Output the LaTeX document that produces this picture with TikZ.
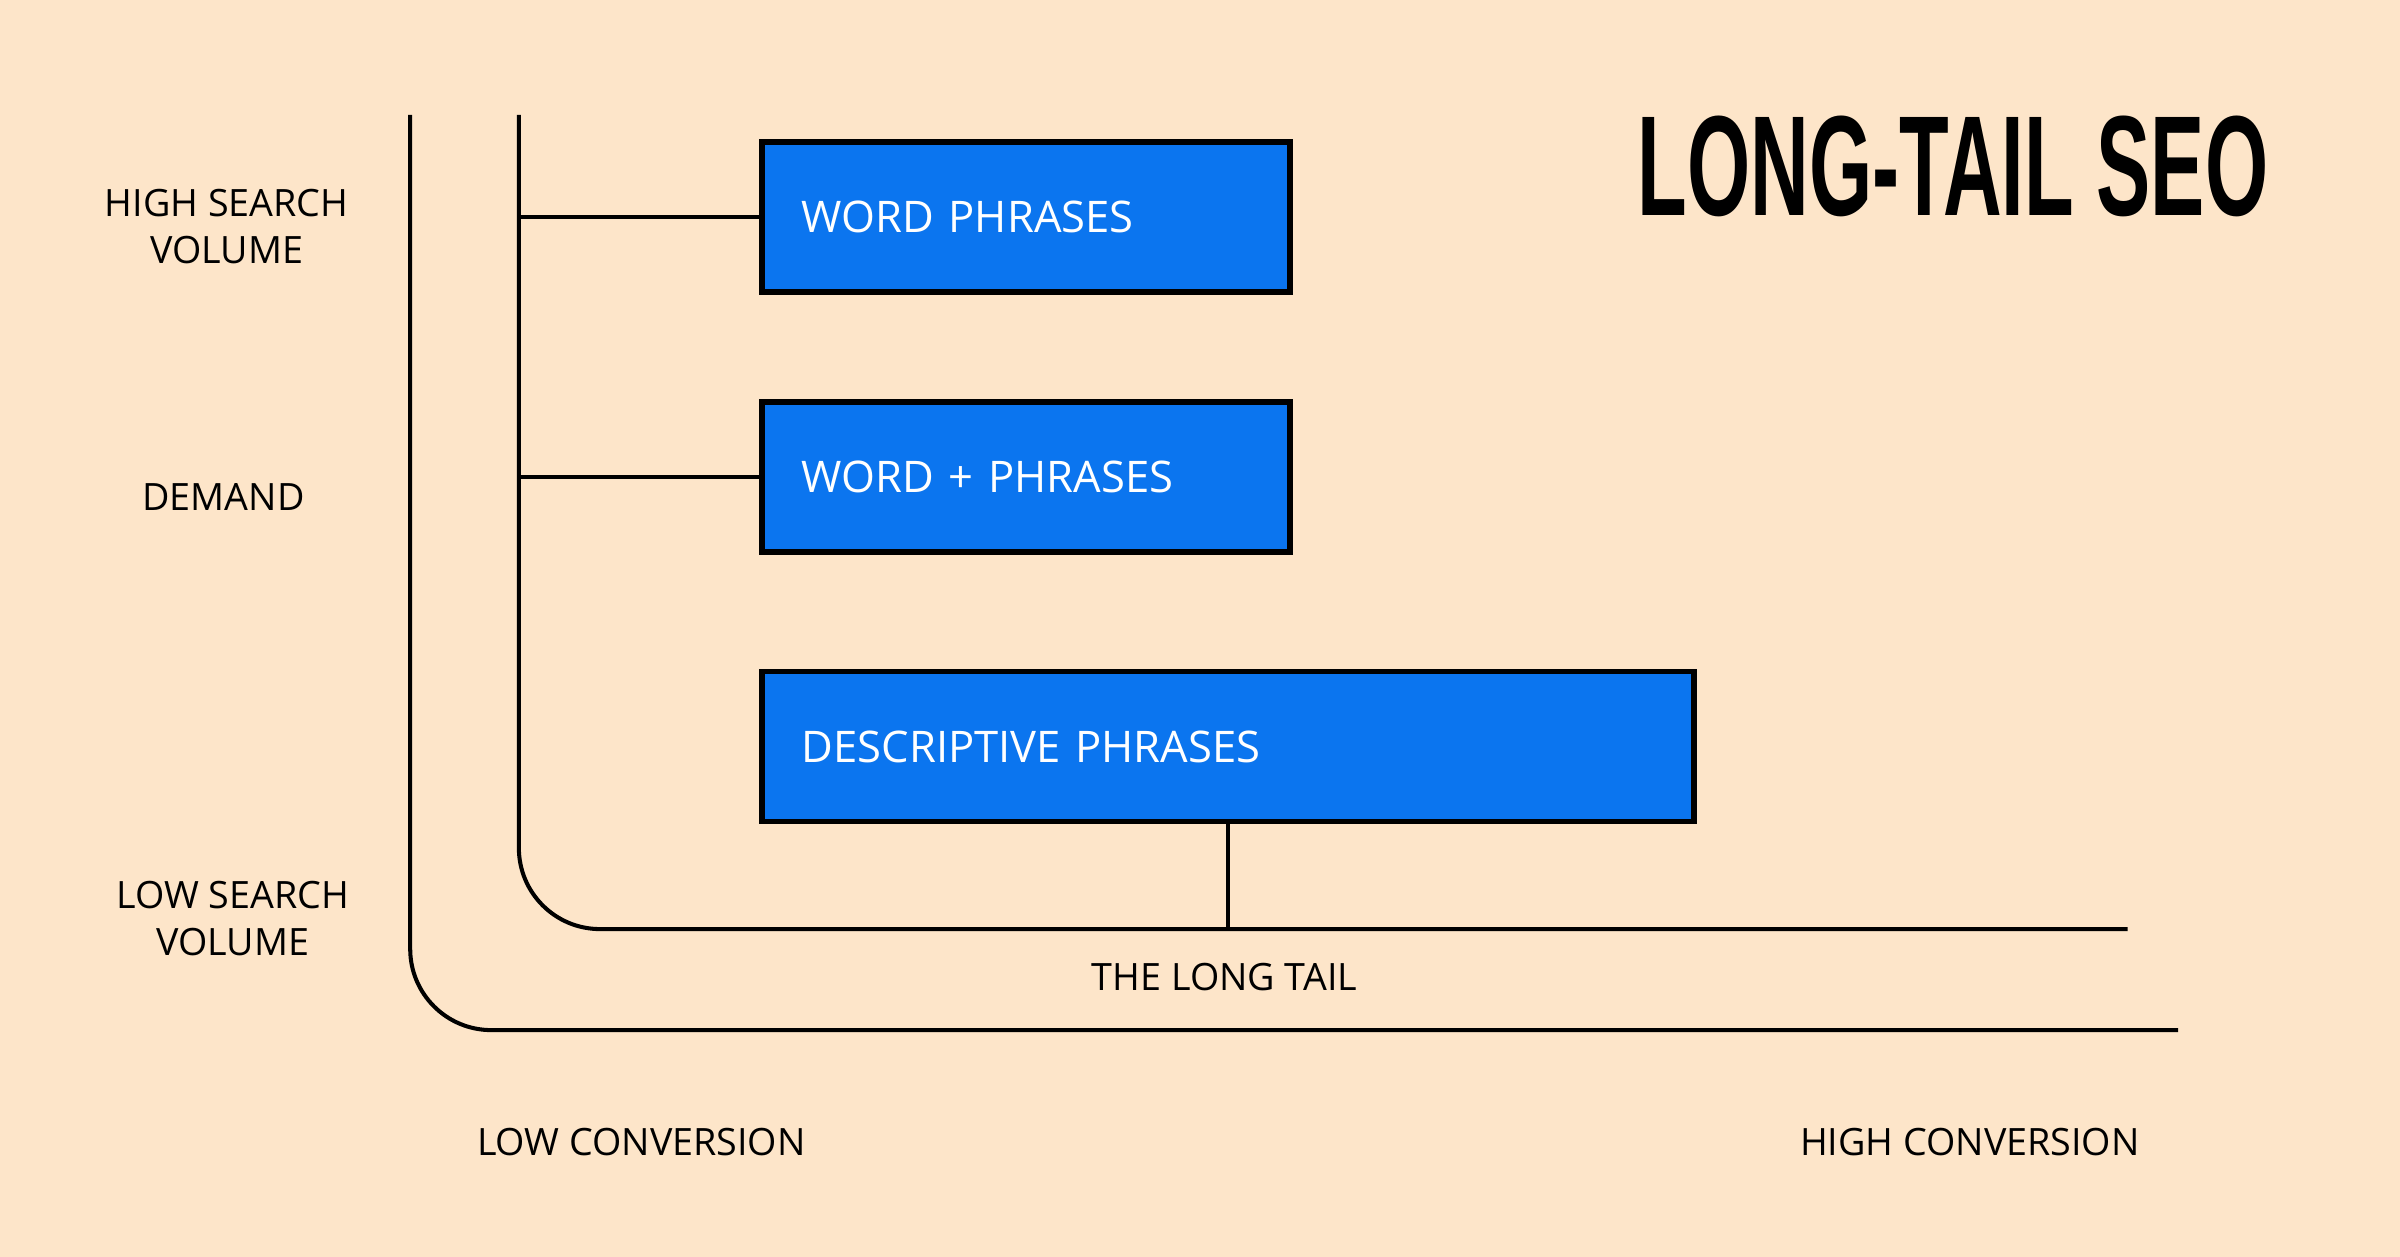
\documentclass[tikz,border=0pt]{standalone}
\usepackage{fontspec}
\setmainfont{Open Sans}
\newfontfamily\titlefont[FakeStretch=0.57]{Liberation Sans}
\usetikzlibrary{positioning}
\definecolor{peach}{HTML}{FDE5C9}
\definecolor{tailblue}{HTML}{0B75EF}
\begin{document}
\begin{tikzpicture}[x=0.2mm, y=-0.2mm,
    axis line/.style={line width=1.5pt, rounded corners=10.6mm},
    phrase box/.style={draw, fill=tailblue, text=white, line width=2pt, anchor=north west,
      minimum height=19.6mm, inner xsep=5.2mm, align=left, font=\fontsize{16.2}{20}\selectfont},
    label text/.style={align=center, font=\fontsize{14}{17.6}\selectfont}]
        \fill[peach] (0,0) rectangle (1568,821);
        \useasboundingbox (0,0) rectangle (1568,821);

          \node[font=\titlefont\bfseries\fontsize{53}{60}\selectfont, inner sep=0pt] (title) at (1276,108.5) {LONG-TAIL SEO};

          \coordinate (outtop) at (268,75);
          \coordinate (outend) at (1423,673);
          \coordinate (intop) at (339,75);
          \coordinate (inend) at (1390,607);

          \node[phrase box, text width=58.6mm] (word) at (496,91) {WORD PHRASES};
          \node[phrase box, text width=58.6mm] (wordplus) at (496,261) {WORD + PHRASES};
          \node[phrase box, text width=111.4mm] (descr) at (496,437) {DESCRIPTIVE PHRASES};

          \node[label text] (high) at (148,148) {HIGH SEARCH\\VOLUME};
          \node[label text] (demand) at (146,325) {DEMAND};
          \node[label text] (low) at (152,600) {LOW SEARCH\\VOLUME};
          \node[label text] (tail) at (800,638) {THE LONG TAIL};
          \node[label text] (lowconv) at (419,746) {LOW CONVERSION};
          \node[label text] (highconv) at (1287,746) {HIGH CONVERSION};

          \draw[axis line] (outtop) |- (outend);
          \draw[axis line] (intop) |- (inend);
          \path[line width=1.5pt]
            (word.west) edge (word.west -| intop)
            (wordplus.west) edge (wordplus.west -| intop)
            (descr.south) edge (descr.south |- inend);

        \end{tikzpicture}
\end{document}
